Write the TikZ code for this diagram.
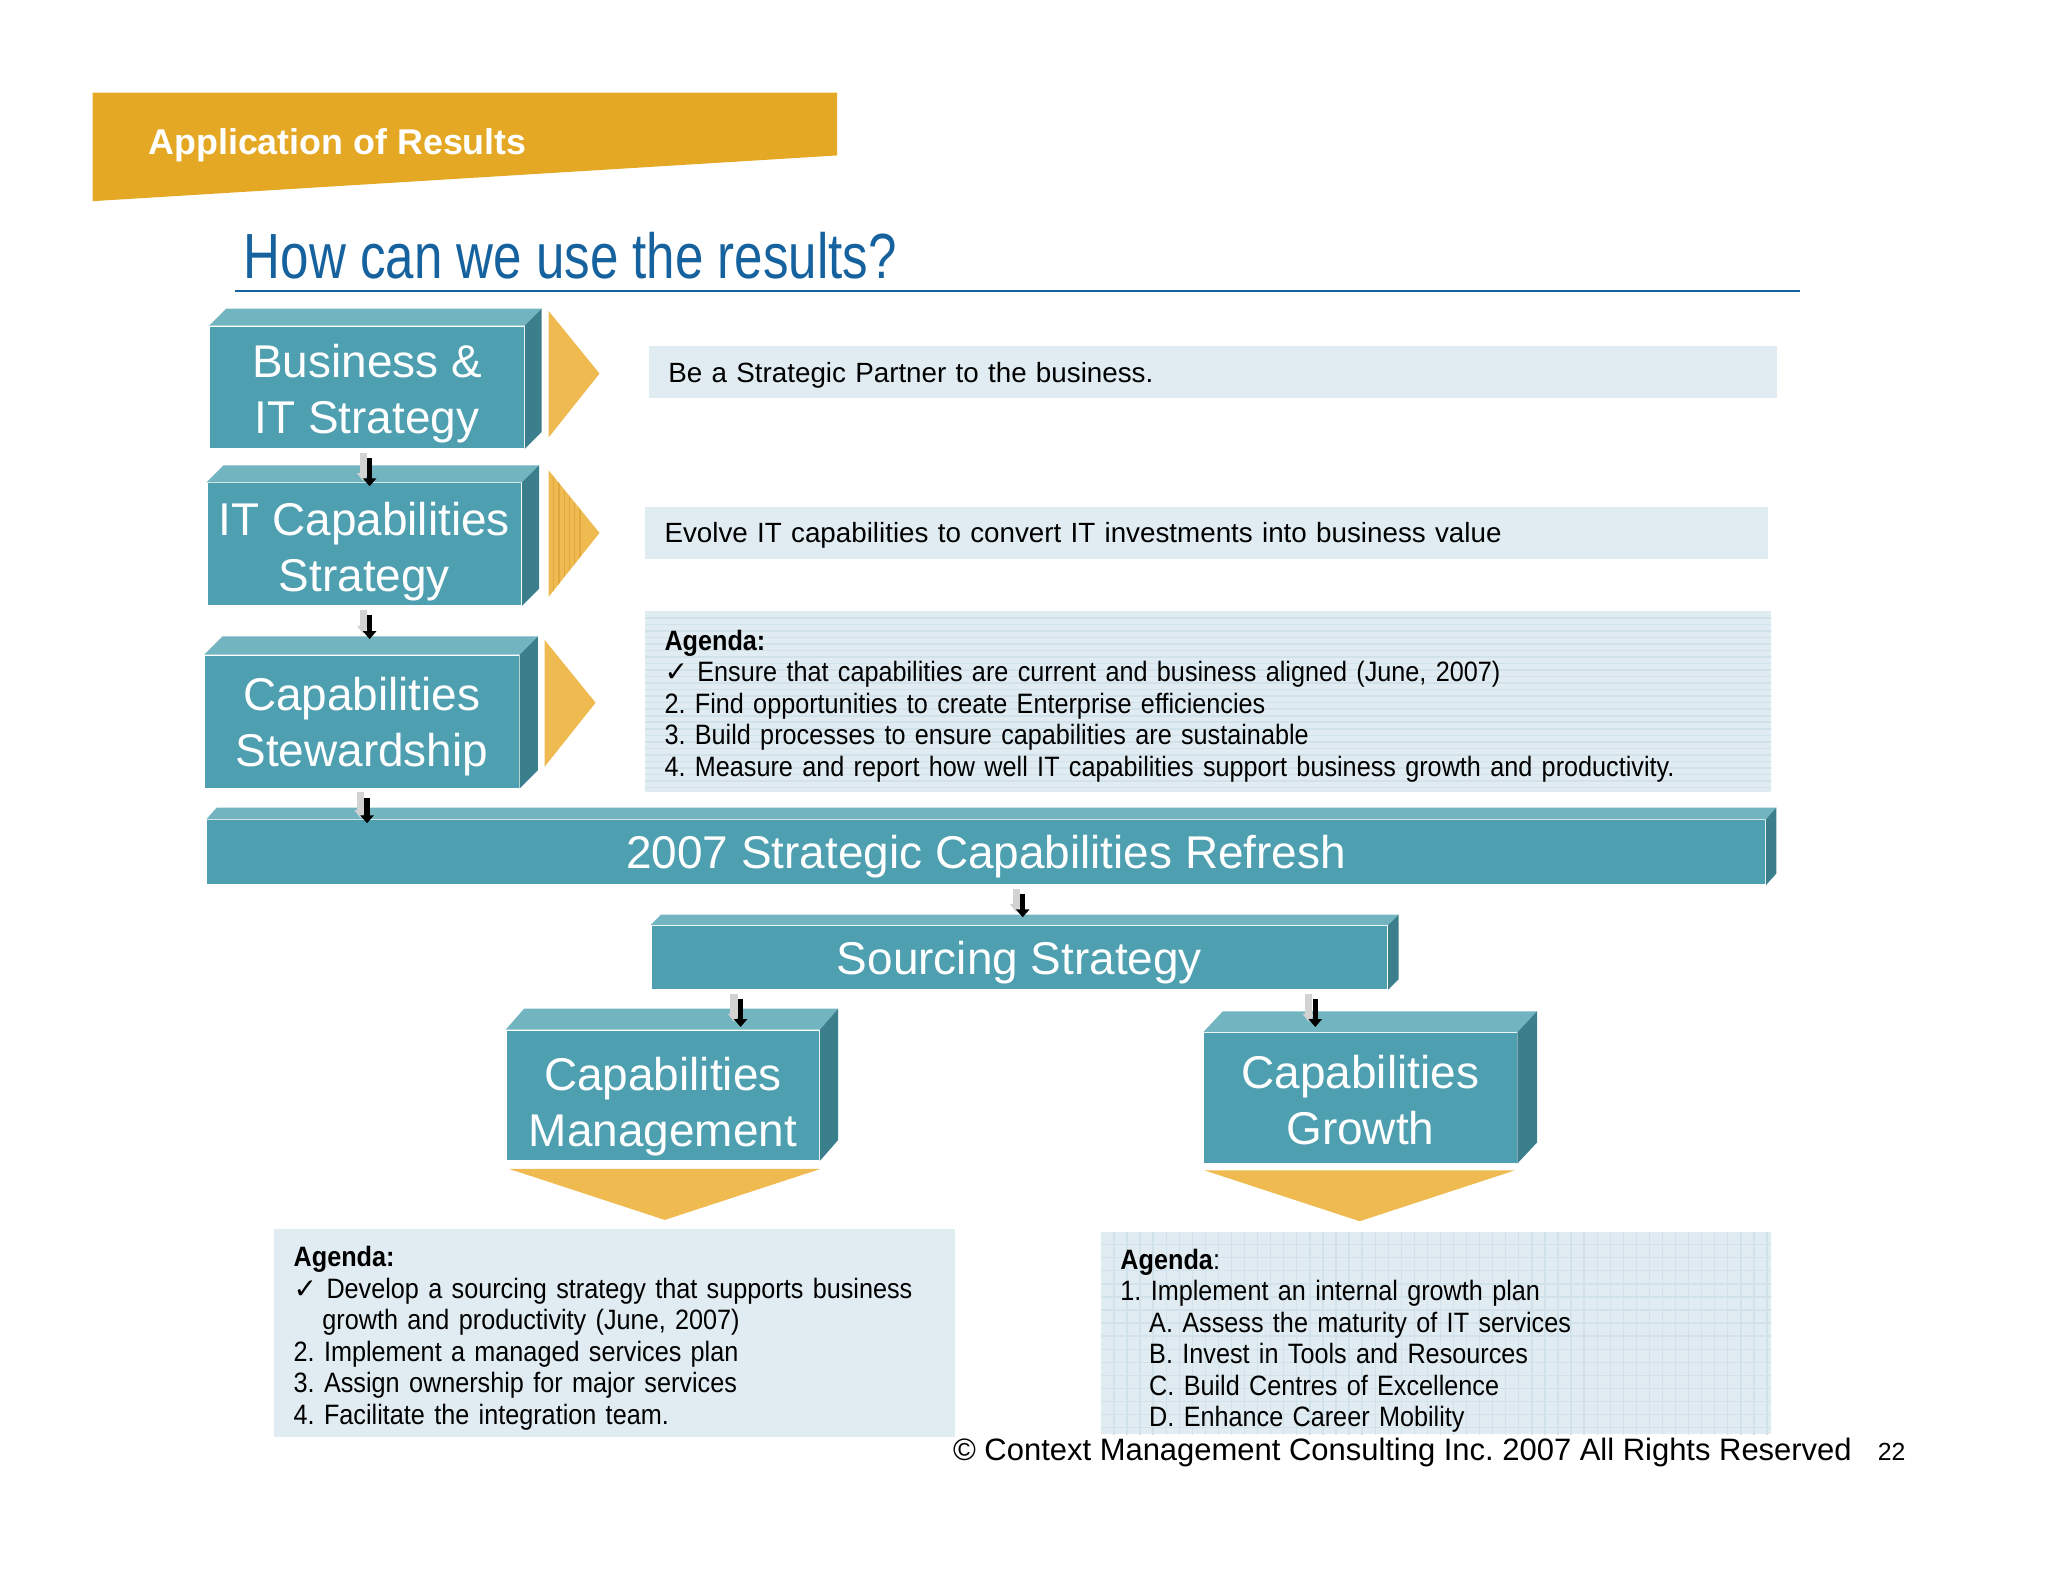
\documentclass[tikz,border=0pt]{standalone}
\usepackage{fontspec}
\setmainfont{Liberation Sans}
\newfontfamily\symfont{DejaVu Sans}
\newfontfamily\narrowfont[FakeStretch=0.9]{Liberation Sans}
\usetikzlibrary{arrows.meta,calc}
\definecolor{boxfront}{RGB}{78,159,176}
\definecolor{boxtop}{RGB}{114,181,193}
\definecolor{boxside}{RGB}{58,127,139}
\definecolor{banner}{RGB}{228,168,36}
\definecolor{wedge}{RGB}{239,187,80}
\definecolor{wedgeline}{RGB}{224,168,62}
\definecolor{paleblue}{RGB}{224,236,241}
\definecolor{paleline}{RGB}{210,226,234}
\definecolor{titleblue}{RGB}{22,98,158}
\frenchspacing
\tikzset{
  slab/.style={fill=boxfront,inner sep=0pt},
  slabtext/.style={text=white,align=center,inner sep=0pt,font=\fontsize{10}{12.2}\selectfont},
  note/.style={fill=paleblue,align=left,inner xsep=0.15cm,inner ysep=0pt,font=\fontsize{6.05}{6.85}\selectfont},
  agenda/.style={note,font=\narrowfont\fontsize{6.1}{6.85}\selectfont},
  drop/.style={execute at end node={\par\vspace*{-#1}}},
  ruled/.style={path picture={\foreach \k in {1,...,30}
    \draw[paleline,line width=0.012cm] (path picture bounding box.north west) ++(0,\k*5) -- ++(1000,0);}},
  gridded/.style={path picture={\foreach \k in {1,...,60}{
    \draw[paleline,line width=0.01cm] (path picture bounding box.north west) ++(0,\k*10) -- ++(1000,0);
    \draw[paleline,line width=0.01cm] (path picture bounding box.north west) ++(\k*10,0) -- ++(0,300);}}},
  shaft/.style={gray!35,line width=0.055cm,-{Triangle[length=0.06cm,width=0.09cm]}},
  tip/.style={black,line width=0.04cm,-{Triangle[length=0.06cm,width=0.1cm]}}
}
\begin{document}
\begin{tikzpicture}[x=0.01cm,y=-0.01cm]
  \useasboundingbox (0,0) rectangle (1568,1211);
  \fill[banner] (71,71) -- (641,71) -- (641,119) -- (71,154) -- cycle;
  \node[anchor=west,inner sep=0pt,text=white,font=\fontsize{7.8}{9}\selectfont\bfseries] (hdr) at (113,111) {Application of Results};
  \node[anchor=base west,inner sep=0pt,text=titleblue,font=\fontsize{13.9}{16}\selectfont] (title) at (186,213) {\scalebox{0.8}[1]{How can we use the results?}};
  \draw[titleblue,line width=0.015cm] (180,223) -- (1378,223);

  \node[slab,minimum width=2.4cm,minimum height=0.93cm] (b1) at (281,296.5) {};
  \node[slab,minimum width=2.4cm,minimum height=0.93cm] (b2) at (279,416.5) {};
  \node[slab,minimum width=2.4cm,minimum height=1.01cm] (b3) at (277,552.5) {};
  \node[slab,minimum width=11.92cm,minimum height=0.49cm] (bar) at (755,652.5) {};
  \node[slab,minimum width=5.63cm,minimum height=0.48cm] (src) at (780.5,733) {};
  \node[slab,minimum width=2.39cm,minimum height=0.99cm] (mgmt) at (507.5,838.5) {};
  \node[slab,minimum width=2.39cm,minimum height=0.99cm] (grow) at (1041.5,840.5) {};
  \foreach \n/\d/\h in {b1/13/13,b2/13/13,b3/14/14,bar/8/9,src/8/8,mgmt/14/16,grow/15/16}{
    \fill[boxtop] (\n.north west) -- ++(\d,-\h) -- ($(\n.north east)+(\d,-\h)$) -- (\n.north east) -- cycle;
    \fill[boxside] (\n.north east) -- ++(\d,-\h) -- ($(\n.south east)+(\d,-\h)$) -- (\n.south east) -- cycle;
  }
  \node[slabtext] (b1txt) at ($(b1)+(0,5)$) {Business \&\\IT Strategy};
  \node[slabtext] (b2txt) at ($(b2)+(0,6)$) {IT Capabilities\\Strategy};
  \node[slabtext] (b3txt) at ($(b3)+(0,4)$) {Capabilities\\Stewardship};
  \node[slabtext] (bartxt) at ($(bar)+(0,3)$) {2007 Strategic Capabilities Refresh};
  \node[slabtext] (srctxt) at ($(src)+(0,4)$) {Sourcing Strategy};
  \node[slabtext] (mgmttxt) at ($(mgmt)+(0,9)$) {Capabilities\\Management};
  \node[slabtext] (growtxt) at ($(grow)+(0,2)$) {Capabilities\\Growth};

  \fill[wedge] (420,238) -- (459,286) -- (420,335) -- cycle;
  \fill[wedge] (420,360) -- (459,408) -- (420,457) -- cycle;
  \begin{scope}
    \clip (420,360) -- (459,408) -- (420,457) -- cycle;
    \foreach \x in {424,428,...,444} \draw[wedgeline,line width=0.01cm] (\x,355) -- (\x,460);
  \end{scope}
  \fill[wedge] (417,490) -- (456,538) -- (417,587) -- cycle;
  \fill[wedge] (390,895) -- (628,895) -- (509,934) -- cycle;
  \fill[wedge] (922,896) -- (1160,896) -- (1041,935) -- cycle;

  \node[note,text width=8.33cm,minimum height=0.4cm,text depth=0pt] (t1) at (928.5,285) {Be a Strategic Partner to the business.};
  \node[note,text width=8.29cm,minimum height=0.4cm,text depth=0pt] (t2) at (923.5,408) {Evolve IT capabilities to convert IT investments into business value};
  \node[agenda,ruled,drop=0.07cm,text width=8.32cm,minimum height=1.38cm] (ag1) at (925,537) {\textbf{Agenda:}\\
    {\symfont ✓} Ensure that capabilities are current and business aligned (June, 2007)\\
    2. Find opportunities to create Enterprise efficiencies\\
    3. Build processes to ensure capabilities are sustainable\\
    4. Measure and report how well IT capabilities support business growth and productivity.};
  \node[agenda,drop=0.08cm,text width=4.91cm,minimum height=1.59cm] (ag2) at (470.5,1020.5) {\textbf{Agenda:}\\
    {\symfont ✓} Develop a sourcing strategy that supports business\\
    \hspace*{0.22cm}growth and productivity (June, 2007)\\
    2. Implement a managed services plan\\
    3. Assign ownership for major services\\
    4. Facilitate the integration team.};
  \node[agenda,gridded,drop=0.12cm,text width=4.83cm,minimum height=1.55cm] (ag3) at (1099.5,1020.5) {\textbf{Agenda}:\\
    1. Implement an internal growth plan\\
    \hspace*{0.22cm}A. Assess the maturity of IT services\\
    \hspace*{0.22cm}B. Invest in Tools and Resources\\
    \hspace*{0.22cm}C. Build Centres of Excellence\\
    \hspace*{0.22cm}D. Enhance Career Mobility};

  \foreach \a/\b/\x/\e in {b1/b2/283/3,b2/b3/283/-12,b3/bar/281/3,bar/src/783/-6,src/mgmt/567/-2,src/grow/1007/-4}{
    \draw[shaft] ($(\x,0 |- \a.south)+(-5,3)$) -- ($(\x,0 |- \b.north)+(-5,\e-4)$);
    \draw[tip] ($(\x,0 |- \a.south)+(0,7)$) -- ($(\x,0 |- \b.north)+(0,\e)$);
  }

  \node[anchor=base west,inner sep=0pt,font=\fontsize{6.74}{8}\selectfont] (copy) at (729,1118) {© Context Management Consulting Inc. 2007 All Rights Reserved};
  \node[anchor=base west,inner sep=0pt,font=\fontsize{5.4}{6}\selectfont] (page) at (1437,1118) {22};
\end{tikzpicture}
\end{document}
